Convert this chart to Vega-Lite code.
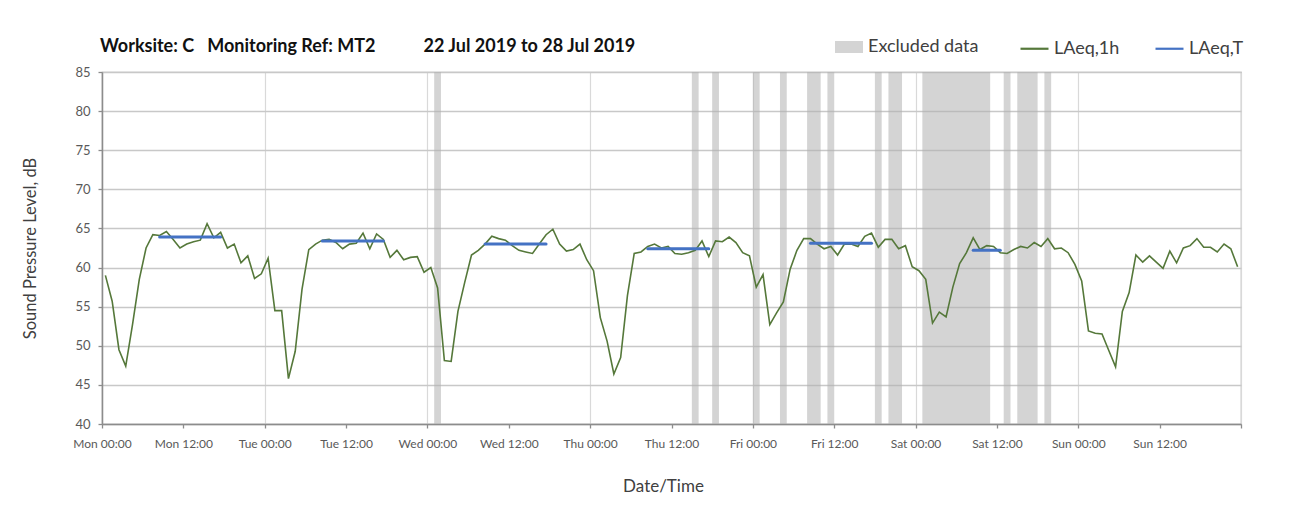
{
  "$schema": "https://vega.github.io/schema/vega-lite/v6.json",
  "width": 1139,
  "height": 352,
  "autosize": "none",
  "padding": {"left": 102, "top": 72, "right": 62, "bottom": 99},
  "background": "white",
  "title": {
    "text": "Worksite: C\u00a0\u00a0\u00a0Monitoring Ref: MT2\u00a0\u00a0\u00a0\u00a0\u00a0\u00a0\u00a0\u00a0\u00a0\u00a0\u00a022 Jul 2019 to 28 Jul 2019",
    "anchor": "start",
    "frame": "group",
    "fontSize": 18,
    "fontWeight": "bold",
    "color": "#111111",
    "offset": 17,
    "dx": -2,
    "dy": 40
  },
  "datasets": {
    "hourly": [
      {"t":"2019-07-22T00:30","v":59.0},{"t":"2019-07-22T01:30","v":55.7},{"t":"2019-07-22T02:30","v":49.5},{"t":"2019-07-22T03:30","v":47.4},
      {"t":"2019-07-22T04:30","v":52.7},{"t":"2019-07-22T05:30","v":58.5},{"t":"2019-07-22T06:30","v":62.5},{"t":"2019-07-22T07:30","v":64.2},
      {"t":"2019-07-22T08:30","v":64.1},{"t":"2019-07-22T09:30","v":64.6},{"t":"2019-07-22T10:30","v":63.6},{"t":"2019-07-22T11:30","v":62.5},
      {"t":"2019-07-22T12:30","v":63.0},{"t":"2019-07-22T13:30","v":63.3},{"t":"2019-07-22T14:30","v":63.5},{"t":"2019-07-22T15:30","v":65.6},
      {"t":"2019-07-22T16:30","v":63.8},{"t":"2019-07-22T17:30","v":64.5},{"t":"2019-07-22T18:30","v":62.5},{"t":"2019-07-22T19:30","v":63.0},
      {"t":"2019-07-22T20:30","v":60.6},{"t":"2019-07-22T21:30","v":61.5},{"t":"2019-07-22T22:30","v":58.6},{"t":"2019-07-22T23:30","v":59.2},
      {"t":"2019-07-23T00:30","v":61.2},{"t":"2019-07-23T01:30","v":54.5},{"t":"2019-07-23T02:30","v":54.5},{"t":"2019-07-23T03:30","v":45.8},
      {"t":"2019-07-23T04:30","v":49.3},{"t":"2019-07-23T05:30","v":57.2},{"t":"2019-07-23T06:30","v":62.3},{"t":"2019-07-23T07:30","v":63.0},
      {"t":"2019-07-23T08:30","v":63.5},{"t":"2019-07-23T09:30","v":63.6},{"t":"2019-07-23T10:30","v":63.2},{"t":"2019-07-23T11:30","v":62.4},
      {"t":"2019-07-23T12:30","v":63.0},{"t":"2019-07-23T13:30","v":63.1},{"t":"2019-07-23T14:30","v":64.4},{"t":"2019-07-23T15:30","v":62.4},
      {"t":"2019-07-23T16:30","v":64.3},{"t":"2019-07-23T17:30","v":63.6},{"t":"2019-07-23T18:30","v":61.3},{"t":"2019-07-23T19:30","v":62.2},
      {"t":"2019-07-23T20:30","v":61.0},{"t":"2019-07-23T21:30","v":61.3},{"t":"2019-07-23T22:30","v":61.4},{"t":"2019-07-23T23:30","v":59.4},
      {"t":"2019-07-24T00:30","v":60.0},{"t":"2019-07-24T01:30","v":57.4},{"t":"2019-07-24T02:30","v":48.1},{"t":"2019-07-24T03:30","v":48.0},
      {"t":"2019-07-24T04:30","v":54.4},{"t":"2019-07-24T05:30","v":58.1},{"t":"2019-07-24T06:30","v":61.6},{"t":"2019-07-24T07:30","v":62.2},
      {"t":"2019-07-24T08:30","v":63.0},{"t":"2019-07-24T09:30","v":64.0},{"t":"2019-07-24T10:30","v":63.7},{"t":"2019-07-24T11:30","v":63.5},
      {"t":"2019-07-24T12:30","v":62.8},{"t":"2019-07-24T13:30","v":62.2},{"t":"2019-07-24T14:30","v":62.0},{"t":"2019-07-24T15:30","v":61.8},
      {"t":"2019-07-24T16:30","v":63.0},{"t":"2019-07-24T17:30","v":64.2},{"t":"2019-07-24T18:30","v":64.9},{"t":"2019-07-24T19:30","v":63.0},
      {"t":"2019-07-24T20:30","v":62.1},{"t":"2019-07-24T21:30","v":62.3},{"t":"2019-07-24T22:30","v":63.0},{"t":"2019-07-24T23:30","v":61.0},
      {"t":"2019-07-25T00:30","v":59.6},{"t":"2019-07-25T01:30","v":53.6},{"t":"2019-07-25T02:30","v":50.6},{"t":"2019-07-25T03:30","v":46.4},
      {"t":"2019-07-25T04:30","v":48.5},{"t":"2019-07-25T05:30","v":56.4},{"t":"2019-07-25T06:30","v":61.8},{"t":"2019-07-25T07:30","v":62.0},
      {"t":"2019-07-25T08:30","v":62.7},{"t":"2019-07-25T09:30","v":63.0},{"t":"2019-07-25T10:30","v":62.5},{"t":"2019-07-25T11:30","v":62.7},
      {"t":"2019-07-25T12:30","v":61.8},{"t":"2019-07-25T13:30","v":61.7},{"t":"2019-07-25T14:30","v":61.9},{"t":"2019-07-25T15:30","v":62.2},
      {"t":"2019-07-25T16:30","v":63.4},{"t":"2019-07-25T17:30","v":61.4},{"t":"2019-07-25T18:30","v":63.4},{"t":"2019-07-25T19:30","v":63.3},
      {"t":"2019-07-25T20:30","v":63.9},{"t":"2019-07-25T21:30","v":63.2},{"t":"2019-07-25T22:30","v":61.9},{"t":"2019-07-25T23:30","v":61.5},
      {"t":"2019-07-26T00:30","v":57.5},{"t":"2019-07-26T01:30","v":59.1},{"t":"2019-07-26T02:30","v":52.7},{"t":"2019-07-26T03:30","v":54.2},
      {"t":"2019-07-26T04:30","v":55.6},{"t":"2019-07-26T05:30","v":59.8},{"t":"2019-07-26T06:30","v":62.2},{"t":"2019-07-26T07:30","v":63.7},
      {"t":"2019-07-26T08:30","v":63.7},{"t":"2019-07-26T09:30","v":63.0},{"t":"2019-07-26T10:30","v":62.4},{"t":"2019-07-26T11:30","v":62.7},
      {"t":"2019-07-26T12:30","v":61.6},{"t":"2019-07-26T13:30","v":63.0},{"t":"2019-07-26T14:30","v":63.0},{"t":"2019-07-26T15:30","v":62.7},
      {"t":"2019-07-26T16:30","v":64.0},{"t":"2019-07-26T17:30","v":64.4},{"t":"2019-07-26T18:30","v":62.6},{"t":"2019-07-26T19:30","v":63.6},
      {"t":"2019-07-26T20:30","v":63.6},{"t":"2019-07-26T21:30","v":62.4},{"t":"2019-07-26T22:30","v":62.8},{"t":"2019-07-26T23:30","v":60.1},
      {"t":"2019-07-27T00:30","v":59.6},{"t":"2019-07-27T01:30","v":58.5},{"t":"2019-07-27T02:30","v":52.9},{"t":"2019-07-27T03:30","v":54.3},
      {"t":"2019-07-27T04:30","v":53.7},{"t":"2019-07-27T05:30","v":57.5},{"t":"2019-07-27T06:30","v":60.5},{"t":"2019-07-27T07:30","v":61.9},
      {"t":"2019-07-27T08:30","v":63.8},{"t":"2019-07-27T09:30","v":62.3},{"t":"2019-07-27T10:30","v":62.8},{"t":"2019-07-27T11:30","v":62.7},
      {"t":"2019-07-27T12:30","v":61.9},{"t":"2019-07-27T13:30","v":61.8},{"t":"2019-07-27T14:30","v":62.3},{"t":"2019-07-27T15:30","v":62.7},
      {"t":"2019-07-27T16:30","v":62.5},{"t":"2019-07-27T17:30","v":63.2},{"t":"2019-07-27T18:30","v":62.7},{"t":"2019-07-27T19:30","v":63.7},
      {"t":"2019-07-27T20:30","v":62.4},{"t":"2019-07-27T21:30","v":62.5},{"t":"2019-07-27T22:30","v":61.9},{"t":"2019-07-27T23:30","v":60.4},
      {"t":"2019-07-28T00:30","v":58.3},{"t":"2019-07-28T01:30","v":51.9},{"t":"2019-07-28T02:30","v":51.6},{"t":"2019-07-28T03:30","v":51.5},
      {"t":"2019-07-28T04:30","v":49.4},{"t":"2019-07-28T05:30","v":47.3},{"t":"2019-07-28T06:30","v":54.4},{"t":"2019-07-28T07:30","v":56.8},
      {"t":"2019-07-28T08:30","v":61.6},{"t":"2019-07-28T09:30","v":60.7},{"t":"2019-07-28T10:30","v":61.5},{"t":"2019-07-28T11:30","v":60.7},
      {"t":"2019-07-28T12:30","v":59.9},{"t":"2019-07-28T13:30","v":62.1},{"t":"2019-07-28T14:30","v":60.6},{"t":"2019-07-28T15:30","v":62.5},
      {"t":"2019-07-28T16:30","v":62.8},{"t":"2019-07-28T17:30","v":63.7},{"t":"2019-07-28T18:30","v":62.6},{"t":"2019-07-28T19:30","v":62.6},
      {"t":"2019-07-28T20:30","v":62.0},{"t":"2019-07-28T21:30","v":63.0},{"t":"2019-07-28T22:30","v":62.4},{"t":"2019-07-28T23:30","v":60.1}
    ],
    "periods": [
      {"s":"2019-07-22T08:30","e":"2019-07-22T17:30","v":63.9},
      {"s":"2019-07-23T08:30","e":"2019-07-23T17:30","v":63.4},
      {"s":"2019-07-24T08:30","e":"2019-07-24T17:30","v":63.0},
      {"s":"2019-07-25T08:30","e":"2019-07-25T17:30","v":62.4},
      {"s":"2019-07-26T08:30","e":"2019-07-26T17:30","v":63.1},
      {"s":"2019-07-27T08:30","e":"2019-07-27T12:30","v":62.2}
    ],
    "excluded": [
      {"s":"2019-07-24T01:00","e":"2019-07-24T02:00"},
      {"s":"2019-07-25T15:00","e":"2019-07-25T16:00"},
      {"s":"2019-07-25T18:00","e":"2019-07-25T19:00"},
      {"s":"2019-07-26T00:00","e":"2019-07-26T01:00"},
      {"s":"2019-07-26T04:00","e":"2019-07-26T05:00"},
      {"s":"2019-07-26T08:00","e":"2019-07-26T10:00"},
      {"s":"2019-07-26T11:00","e":"2019-07-26T12:00"},
      {"s":"2019-07-26T18:00","e":"2019-07-26T19:00"},
      {"s":"2019-07-26T20:00","e":"2019-07-26T22:00"},
      {"s":"2019-07-27T01:00","e":"2019-07-27T11:00"},
      {"s":"2019-07-27T13:00","e":"2019-07-27T14:00"},
      {"s":"2019-07-27T15:00","e":"2019-07-27T18:00"},
      {"s":"2019-07-27T19:00","e":"2019-07-27T20:00"}
    ]
  },
  "layer": [
    {
      "data": {"name": "excluded"},
      "mark": {"type": "rect", "opacity": 0.55},
      "encoding": {
        "x": {
          "field": "s", "type": "temporal",
          "scale": {"domain": [{"year": 2019, "month": 7, "date": 22, "hours": 0}, {"year": 2019, "month": 7, "date": 29, "hours": 0}]},
          "axis": {
            "title": "Date/Time",
            "values": [
              {"year": 2019, "month": 7, "date": 22, "hours": 0}, {"year": 2019, "month": 7, "date": 22, "hours": 12},
              {"year": 2019, "month": 7, "date": 23, "hours": 0}, {"year": 2019, "month": 7, "date": 23, "hours": 12},
              {"year": 2019, "month": 7, "date": 24, "hours": 0}, {"year": 2019, "month": 7, "date": 24, "hours": 12},
              {"year": 2019, "month": 7, "date": 25, "hours": 0}, {"year": 2019, "month": 7, "date": 25, "hours": 12},
              {"year": 2019, "month": 7, "date": 26, "hours": 0}, {"year": 2019, "month": 7, "date": 26, "hours": 12},
              {"year": 2019, "month": 7, "date": 27, "hours": 0}, {"year": 2019, "month": 7, "date": 27, "hours": 12},
              {"year": 2019, "month": 7, "date": 28, "hours": 0}, {"year": 2019, "month": 7, "date": 28, "hours": 12},
              {"year": 2019, "month": 7, "date": 29, "hours": 0}
            ],
            "labelExpr": "date(datum.value) == 29 ? '' : timeFormat(datum.value, '%a %H:%M')",
            "labelFontSize": 12,
            "labelColor": "#595959",
            "labelPadding": 10,
            "labelFlush": false,
            "labelOverlap": false,
            "tickSize": 4,
            "tickColor": "#8c8c8c",
            "tickWidth": 1.3,
            "domainColor": "#8c8c8c",
            "domainWidth": 1.5,
            "grid": true,
            "gridColor": "#d9d9d9",
            "gridWidth": 1.2,
            "gridOpacity": {"condition": {"test": "hours(datum.value) == 0", "value": 1}, "value": 0},
            "titleFontSize": 17,
            "titleFontWeight": "normal",
            "titleColor": "#404040",
            "titlePadding": 29,
            "titleX": 561
          }
        },
        "x2": {"field": "e"},
        "fill": {
          "datum": "Excluded data",
          "scale": {"domain": ["Excluded data"], "range": ["#b0b0b0"]},
          "legend": {
            "title": null,
            "orient": "none",
            "legendX": 733,
            "legendY": -39,
            "labelFontSize": 18,
            "labelColor": "#404040",
            "labelOffset": 5,
            "symbolSize": 784,
            "symbolType": "M-1,-0.43H1V0.43H-1Z",
            "symbolOpacity": 0.55,
            "symbolStrokeWidth": 0
          }
        }
      }
    },
    {
      "data": {"name": "hourly"},
      "mark": {"type": "line", "strokeWidth": 1.6, "interpolate": "linear"},
      "encoding": {
        "x": {"field": "t", "type": "temporal"},
        "y": {
          "field": "v", "type": "quantitative",
          "scale": {"domain": [40, 85], "nice": false, "zero": false},
          "axis": {
            "title": "Sound Pressure Level, dB",
            "values": [40, 45, 50, 55, 60, 65, 70, 75, 80, 85],
            "labelOverlap": false,
            "labelFlush": false,
            "labelFontSize": 13,
            "labelColor": "#595959",
            "labelPadding": 8,
            "tickSize": 4,
            "tickColor": "#8c8c8c",
            "tickWidth": 1.3,
            "domainColor": "#8c8c8c",
            "domainWidth": 1.5,
            "gridColor": "#c8c8c8",
            "gridWidth": 1.4,
            "titleFontSize": 16.5,
            "titleFontWeight": "normal",
            "titleColor": "#404040",
            "titlePadding": 36
          }
        },
        "stroke": {
          "datum": "LAeq,1h",
          "scale": {"domain": ["LAeq,1h", "LAeq,T"], "range": ["#55783a", "#4472c4"]},
          "legend": {
            "title": null,
            "orient": "none",
            "legendX": 917,
            "legendY": -39,
            "direction": "horizontal",
            "labelFontSize": 18,
            "labelColor": "#404040",
            "labelOffset": 4,
            "columnPadding": 31,
            "symbolType": "stroke",
            "symbolSize": 784,
            "symbolStrokeWidth": 2.2,
            "symbolOpacity": 1
          }
        }
      }
    },
    {
      "data": {"name": "periods"},
      "mark": {"type": "rule", "strokeWidth": 3, "strokeCap": "round"},
      "encoding": {
        "x": {"field": "s", "type": "temporal"},
        "x2": {"field": "e"},
        "y": {
          "field": "v", "type": "quantitative",
          "axis": {
            "title": "Sound Pressure Level, dB",
            "values": [40, 45, 50, 55, 60, 65, 70, 75, 80, 85],
            "labelOverlap": false,
            "labelFlush": false,
            "labelFontSize": 13,
            "labelColor": "#595959",
            "labelPadding": 8,
            "tickSize": 4,
            "tickColor": "#8c8c8c",
            "tickWidth": 1.3,
            "domainColor": "#8c8c8c",
            "domainWidth": 1.5,
            "gridColor": "#c8c8c8",
            "gridWidth": 1.4,
            "titleFontSize": 16.5,
            "titleFontWeight": "normal",
            "titleColor": "#404040",
            "titlePadding": 36
          }
        },
        "stroke": {"datum": "LAeq,T"}
      }
    }
  ],
  "config": {
    "font": "Lato",
    "view": {"stroke": "#b0b0b0", "strokeWidth": 1.2},
    "axis": {"labelFont": "Lato", "titleFont": "Lato"},
    "legend": {"labelFont": "Lato"},
    "title": {"font": "Lato"}
  }
}
